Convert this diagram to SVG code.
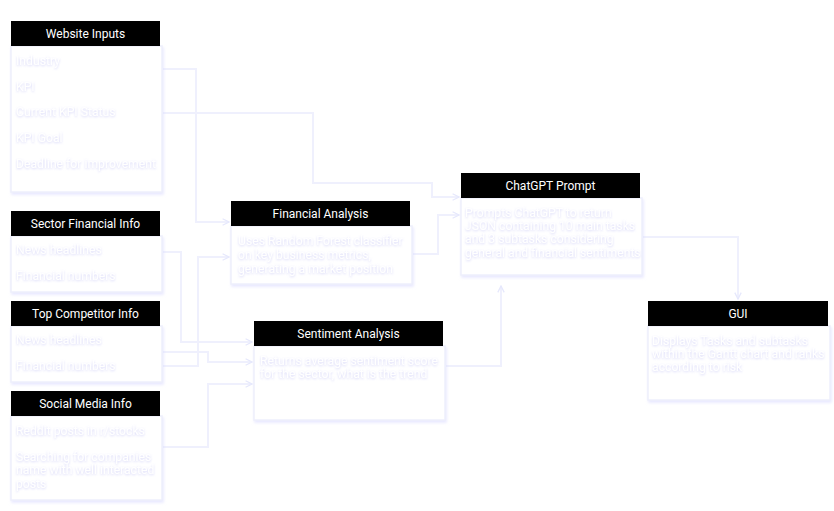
<svg xmlns="http://www.w3.org/2000/svg" width="834" height="511" viewBox="0 0 834 511">
<defs>
<filter id="ts" x="-10%" y="-50%" width="120%" height="200%">
<feGaussianBlur in="SourceAlpha" stdDeviation="1.1"/>
<feOffset dx="0" dy="1" result="b"/>
<feFlood flood-color="#c0c0f4" flood-opacity="0.65"/>
<feComposite in2="b" operator="in" result="s"/>
<feMerge><feMergeNode in="s"/><feMergeNode in="SourceGraphic"/></feMerge>
</filter>
<filter id="bs" x="-10%" y="-10%" width="120%" height="120%">
<feDropShadow dx="1" dy="2" stdDeviation="1.5" flood-color="#d8d8ff" flood-opacity="0.6"/>
</filter>
<marker id="ar" viewBox="0 0 10 10" refX="9" refY="5" markerWidth="8" markerHeight="8" orient="auto" markerUnits="userSpaceOnUse">
<path d="M1,1 L9,5 L1,9" fill="none" stroke="#e6e8fc" stroke-width="1.6"/>
</marker>
</defs>
<style>
.hd{fill:#000}
.bd{fill:#fff;stroke:#eeeffc;stroke-width:1.5;filter:url(#bs)}
.ht{font-family:Roboto,"Liberation Sans",sans-serif;font-size:12px;fill:#fff;text-anchor:middle}
.tx{font-family:Roboto,"Liberation Sans",sans-serif;font-size:12.2px;fill:#fff;filter:url(#ts)}
.cn{fill:none;stroke:#eff0fd;stroke-width:2;marker-end:url(#ar)}
</style>
<rect width="834" height="511" fill="#fff"/>
<g id="connectors">
<path class="cn" d="M163,69 H196 V222 H229"/>
<path class="cn" d="M163,113 H313 V183 H432 V197 H459"/>
<path class="cn" d="M413,254 H438 V215 H459"/>
<path class="cn" d="M446,366 H501 V286"/>
<path class="cn" d="M643,237 H738 V299"/>
<path class="cn" d="M163,252 H181 V342 H252"/>
<path class="cn" d="M163,366 H198 V257 H229"/>
<path class="cn" d="M163,352 H208 V362 H252"/>
<path class="cn" d="M163,447 H208 V384 H252"/>
</g>
<g id="website-inputs">
<rect class="bd" x="11" y="46" width="151" height="146"/>
<rect class="hd" x="11" y="21" width="149" height="25"/>
<text class="ht" x="85.5" y="38">Website Inputs</text>
<text class="tx" x="16" y="65">Industry</text>
<text class="tx" x="16" y="91">KPI</text>
<text class="tx" x="16" y="116">Current KPI Status</text>
<text class="tx" x="16" y="142">KPI Goal</text>
<text class="tx" x="16" y="168">Deadline for improvement</text>
</g>
<g id="sector-financial-info">
<rect class="bd" x="11" y="236" width="151" height="56"/>
<rect class="hd" x="11" y="211" width="149" height="25"/>
<text class="ht" x="85.5" y="228">Sector Financial Info</text>
<text class="tx" x="16" y="254">News headlines</text>
<text class="tx" x="16" y="280">Financial numbers</text>
</g>
<g id="top-competitor-info">
<rect class="bd" x="11" y="326" width="151" height="56"/>
<rect class="hd" x="11" y="301" width="149" height="25"/>
<text class="ht" x="85.5" y="318">Top Competitor Info</text>
<text class="tx" x="16" y="344">News headlines</text>
<text class="tx" x="16" y="370">Financial numbers</text>
</g>
<g id="social-media-info">
<rect class="bd" x="11" y="416" width="151" height="84"/>
<rect class="hd" x="11" y="391" width="149" height="25"/>
<text class="ht" x="85.5" y="408">Social Media Info</text>
<text class="tx" x="16" y="435">Reddit posts in r/stocks</text>
<text class="tx" x="16" y="461">Searching for companies</text>
<text class="tx" x="16" y="474">name with well interacted</text>
<text class="tx" x="16" y="488">posts</text>
</g>
<g id="financial-analysis">
<rect class="bd" x="231" y="226" width="181" height="58"/>
<rect class="hd" x="231" y="201" width="179" height="25"/>
<text class="ht" x="320.5" y="218">Financial Analysis</text>
<text class="tx" x="238" y="245">Uses Random Forest classifier</text>
<text class="tx" x="238" y="259">on key business metrics,</text>
<text class="tx" x="238" y="273">generating a market position</text>
</g>
<g id="sentiment-analysis">
<rect class="bd" x="254" y="346" width="191" height="74"/>
<rect class="hd" x="254" y="321" width="189" height="25"/>
<text class="ht" x="348.5" y="338">Sentiment Analysis</text>
<text class="tx" x="260" y="365">Returns average sentiment score</text>
<text class="tx" x="260" y="378">for the sector, what is the trend</text>
</g>
<g id="chatgpt-prompt">
<rect class="bd" x="461" y="198" width="181" height="77"/>
<rect class="hd" x="461" y="173" width="179" height="25"/>
<text class="ht" x="550.5" y="190">ChatGPT Prompt</text>
<text class="tx" x="465" y="217">Prompts ChatGPT to return</text>
<text class="tx" x="465" y="230">JSON containing 10 main tasks</text>
<text class="tx" x="465" y="243">and 3 subtasks considering</text>
<text class="tx" x="465" y="257">general and financial sentiments</text>
</g>
<g id="gui">
<rect class="bd" x="648" y="326" width="182" height="74"/>
<rect class="hd" x="648" y="301" width="180" height="25"/>
<text class="ht" x="738" y="318">GUI</text>
<text class="tx" x="652" y="345">Displays Tasks and subtasks</text>
<text class="tx" x="652" y="358">within the Gantt chart and ranks</text>
<text class="tx" x="652" y="371">according to risk</text>
</g>
</svg>
